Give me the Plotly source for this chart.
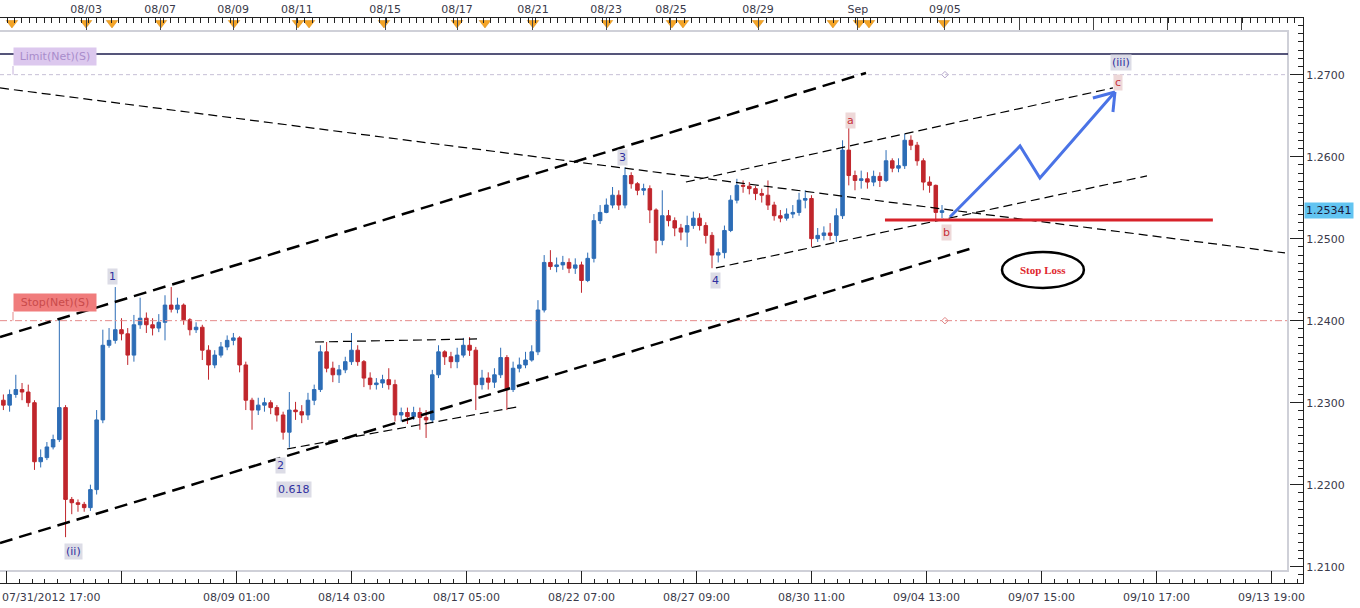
import plotly.graph_objects as go

# ---------------- data ----------------
# x unit: trading hours since 07/31/2012 17:00 (weekends removed); one bar = 4 hours
bar_hour = list(range(-2, 606, 4))

bar_open = [
    1.2303, 1.2297, 1.2310, 1.2316, 1.2313, 1.2300, 1.2228, 1.2233, 1.2246, 1.2255,
    1.2294, 1.2182, 1.2178, 1.2176, 1.2172, 1.2194, 1.2279, 1.2370, 1.2376, 1.2389,
    1.2384, 1.2358, 1.2395, 1.2403, 1.2395, 1.2391, 1.2398, 1.2419, 1.2414, 1.2419,
    1.2401, 1.2389, 1.2392, 1.2364, 1.2346, 1.2358, 1.2368, 1.2376, 1.2379, 1.2346,
    1.2303, 1.2291, 1.2297, 1.2300, 1.2294, 1.2285, 1.2264, 1.2291, 1.2289, 1.2285,
    1.2303, 1.2316, 1.2362, 1.2342, 1.2334, 1.2340, 1.2350, 1.2364, 1.2350, 1.2330,
    1.2322, 1.2324, 1.2328, 1.2322, 1.2285, 1.2288, 1.2283, 1.2288, 1.2282, 1.2279,
    1.2334, 1.2362, 1.2356, 1.2350, 1.2358, 1.2370, 1.2364, 1.2322, 1.2330, 1.2325,
    1.2334, 1.2355, 1.2316, 1.2342, 1.2346, 1.2352, 1.2362, 1.2413, 1.2471, 1.2466,
    1.2468, 1.2471, 1.2464, 1.2468, 1.2449, 1.2476, 1.2522, 1.2532, 1.2541, 1.2553,
    1.2541, 1.2577, 1.2567, 1.2559, 1.2561, 1.2535, 1.2498, 1.2528, 1.2522, 1.2513,
    1.2508, 1.2516, 1.2525, 1.2516, 1.2504, 1.2480, 1.2483, 1.2510, 1.2547, 1.2565,
    1.2564, 1.2561, 1.2555, 1.2553, 1.2541, 1.2528, 1.2525, 1.2530, 1.2532, 1.2547,
    1.2549, 1.2500, 1.2504, 1.2507, 1.2504, 1.2528, 1.2608, 1.2577, 1.2571, 1.2573,
    1.2569, 1.2576, 1.2571, 1.2595, 1.2586, 1.2589, 1.2620, 1.2614, 1.2595, 1.2569,
    1.2565, 1.2532,
]
bar_high = [
    1.2310, 1.2316, 1.2334, 1.2324, 1.2322, 1.2303, 1.2243, 1.2252, 1.2261, 1.2401,
    1.2297, 1.2185, 1.2182, 1.2179, 1.2200, 1.2291, 1.2389, 1.2391, 1.2441, 1.2403,
    1.2391, 1.2407, 1.2428, 1.2410, 1.2403, 1.2408, 1.2431, 1.2441, 1.2428, 1.2421,
    1.2403, 1.2398, 1.2395, 1.2370, 1.2364, 1.2374, 1.2382, 1.2385, 1.2381, 1.2350,
    1.2306, 1.2306, 1.2306, 1.2303, 1.2297, 1.2289, 1.2313, 1.2301, 1.2297, 1.2312,
    1.2322, 1.2370, 1.2374, 1.2350, 1.2346, 1.2356, 1.2385, 1.2370, 1.2352, 1.2337,
    1.2330, 1.2334, 1.2342, 1.2328, 1.2294, 1.2294, 1.2295, 1.2294, 1.2291, 1.2340,
    1.2370, 1.2364, 1.2362, 1.2367, 1.2379, 1.2380, 1.2368, 1.2340, 1.2337, 1.2342,
    1.2367, 1.2358, 1.2350, 1.2355, 1.2362, 1.2370, 1.2425, 1.2480, 1.2486, 1.2477,
    1.2479, 1.2476, 1.2476, 1.2472, 1.2483, 1.2530, 1.2541, 1.2549, 1.2563, 1.2559,
    1.2587, 1.2581, 1.2569, 1.2567, 1.2565, 1.2537, 1.2559, 1.2535, 1.2526, 1.2518,
    1.2528, 1.2533, 1.2531, 1.2520, 1.2508, 1.2488, 1.2516, 1.2553, 1.2573, 1.2571,
    1.2569, 1.2564, 1.2561, 1.2571, 1.2545, 1.2535, 1.2537, 1.2541, 1.2556, 1.2559,
    1.2553, 1.2513, 1.2515, 1.2519, 1.2537, 1.2620, 1.2638, 1.2583, 1.2583, 1.2581,
    1.2583, 1.2581, 1.2608, 1.2598, 1.2598, 1.2628, 1.2626, 1.2618, 1.2598, 1.2576,
    1.2566, 1.2541,
]
bar_low = [
    1.2291, 1.2289, 1.2306, 1.2303, 1.2295, 1.2218, 1.2221, 1.2230, 1.2243, 1.2252,
    1.2136, 1.2164, 1.2167, 1.2167, 1.2168, 1.2188, 1.2275, 1.2367, 1.2372, 1.2376,
    1.2346, 1.2350, 1.2390, 1.2385, 1.2382, 1.2386, 1.2376, 1.2410, 1.2409, 1.2395,
    1.2382, 1.2385, 1.2352, 1.2328, 1.2342, 1.2355, 1.2364, 1.2370, 1.2337, 1.2291,
    1.2267, 1.2285, 1.2289, 1.2286, 1.2277, 1.2255, 1.2245, 1.2279, 1.2275, 1.2279,
    1.2297, 1.2313, 1.2337, 1.2325, 1.2324, 1.2336, 1.2346, 1.2345, 1.2319, 1.2316,
    1.2316, 1.2318, 1.2316, 1.2277, 1.2277, 1.2274, 1.2279, 1.2267, 1.2257, 1.2275,
    1.2330, 1.2346, 1.2342, 1.2342, 1.2355, 1.2357, 1.2291, 1.2316, 1.2316, 1.2318,
    1.2330, 1.2291, 1.2313, 1.2337, 1.2342, 1.2350, 1.2358, 1.2410, 1.2462, 1.2459,
    1.2462, 1.2458, 1.2457, 1.2434, 1.2447, 1.2471, 1.2518, 1.2531, 1.2537, 1.2535,
    1.2537, 1.2561, 1.2553, 1.2553, 1.2519, 1.2482, 1.2492, 1.2515, 1.2503, 1.2498,
    1.2490, 1.2512, 1.2510, 1.2494, 1.2464, 1.2471, 1.2476, 1.2508, 1.2543, 1.2556,
    1.2554, 1.2547, 1.2544, 1.2535, 1.2522, 1.2520, 1.2522, 1.2525, 1.2528, 1.2537,
    1.2490, 1.2496, 1.2498, 1.2498, 1.2496, 1.2524, 1.2565, 1.2559, 1.2561, 1.2561,
    1.2564, 1.2563, 1.2569, 1.2581, 1.2581, 1.2585, 1.2608, 1.2589, 1.2559, 1.2556,
    1.2522, 1.2525,
]
bar_close = [
    1.2297, 1.2310, 1.2316, 1.2313, 1.2300, 1.2228, 1.2233, 1.2246, 1.2255, 1.2294,
    1.2182, 1.2178, 1.2176, 1.2172, 1.2194, 1.2279, 1.2370, 1.2376, 1.2389, 1.2384,
    1.2358, 1.2395, 1.2403, 1.2395, 1.2391, 1.2398, 1.2419, 1.2414, 1.2419, 1.2401,
    1.2389, 1.2392, 1.2364, 1.2346, 1.2358, 1.2368, 1.2376, 1.2379, 1.2346, 1.2303,
    1.2291, 1.2297, 1.2300, 1.2294, 1.2285, 1.2264, 1.2291, 1.2289, 1.2285, 1.2303,
    1.2316, 1.2362, 1.2342, 1.2334, 1.2340, 1.2350, 1.2364, 1.2350, 1.2330, 1.2322,
    1.2324, 1.2328, 1.2322, 1.2285, 1.2288, 1.2283, 1.2288, 1.2282, 1.2279, 1.2334,
    1.2362, 1.2356, 1.2350, 1.2358, 1.2370, 1.2364, 1.2322, 1.2330, 1.2325, 1.2334,
    1.2355, 1.2316, 1.2342, 1.2346, 1.2352, 1.2362, 1.2413, 1.2471, 1.2466, 1.2468,
    1.2471, 1.2464, 1.2468, 1.2449, 1.2476, 1.2522, 1.2532, 1.2541, 1.2553, 1.2541,
    1.2577, 1.2567, 1.2559, 1.2561, 1.2535, 1.2498, 1.2528, 1.2522, 1.2513, 1.2508,
    1.2516, 1.2525, 1.2516, 1.2504, 1.2480, 1.2483, 1.2510, 1.2547, 1.2565, 1.2564,
    1.2561, 1.2555, 1.2553, 1.2541, 1.2528, 1.2525, 1.2530, 1.2532, 1.2547, 1.2549,
    1.2500, 1.2504, 1.2507, 1.2504, 1.2528, 1.2608, 1.2577, 1.2571, 1.2573, 1.2569,
    1.2576, 1.2571, 1.2595, 1.2586, 1.2589, 1.2620, 1.2614, 1.2595, 1.2569, 1.2565,
    1.2532, 1.25341,
]
last_price = 1.25341

# axis ticks / labels
bottom_tick_hours = [0, 74, 148, 222, 296, 370, 444, 518, 592, 666, 740, 814]
bottom_tick_text = ["", "", "08/09 01:00", "08/14 03:00", "08/17 05:00", "08/22 07:00",
                    "08/27 09:00", "08/30 11:00", "09/04 13:00", "09/07 15:00",
                    "09/10 17:00", "09/13 19:00"]
first_bottom_label = "07/31/2012 17:00"
top_tick_hours = [51.2, 98.8, 145.8, 186.9, 243.6, 289.9, 338.8, 385.8, 427.6, 483.6,
                  547.9, 603.9, 651.7, 699.3, 746.9, 795.0]
top_tick_text = ["08/03", "08/07", "08/09", "08/11", "08/15", "08/17", "08/21", "08/23",
                 "08/25", "08/29", "Sep", "09/05", "", "", "", ""]
event_hours = [3.5, 51.2, 67.9, 99.4, 146.4, 187.6, 194.7, 242.9, 289.9, 307.9, 338.8,
               386.4, 428.2, 435.3, 483.6, 531.8, 548.6, 555.0, 603.2]
price_ticks = [1.21, 1.22, 1.23, 1.24, 1.25, 1.26, 1.27]

# order levels
limit_level = 1.2700
stop_level = 1.2400
upper_level = 1.27252
support_level = 1.25228
support_hours = [565.3, 776.3]
order_marker_hour = 603.9

# analyst trend lines: (hour0, price0, hour1, price1)
thick_lines = [(-4.18, 1.23801, 553.1, 1.27021),
               (-4.18, 1.21289, 621.9, 1.24887)]
thin_lines = [(-4.18, 1.26838, 822.7, 1.24826),
              (437.2, 1.25691, 712.0, 1.26838),
              (456.5, 1.24643, 733.9, 1.25765),
              (198.5, 1.23740, 302.8, 1.23777),
              (180.5, 1.22435, 328.5, 1.22948)]

# projected path (blue arrow)
arrow_hours = [607.1, 652.2, 665.0, 713.3]
arrow_prices = [1.25265, 1.26130, 1.25740, 1.26789]
arrow_wing_hours = [699.1, 712.0]
arrow_wing_prices = [1.26716, 1.26545]

# wave labels
wave_text = ["1", "(ii)", "2", "0.618", "3", "4", "(iii)"]
wave_hours = [68.5, 43.4, 176.6, 185.0, 396.7, 456.5, 717.1]
wave_prices = [1.24533, 1.21191, 1.22240, 1.21947, 1.25984, 1.24484, 1.27143]
abc_text = ["a", "b", "c"]
abc_hours = [542.8, 605.2, 715.0]
abc_prices = [1.26435, 1.25070, 1.26899]

# stop-loss ellipse
stoploss_hours = [640.6, 693.3]
stoploss_prices = [1.24399, 1.24838]

# ---------------- figure ----------------
W, H = 1360, 608
X_RANGE = [-4.18, 834.3]
Y_RANGE = [1.20801, 1.27691]
PLOT_RIGHT = 1288 / W
INK = "#3a3a4a"

fig = go.Figure()

fig.add_trace(go.Candlestick(
    x=bar_hour, open=bar_open, high=bar_high, low=bar_low, close=bar_close,
    increasing=dict(line=dict(color="#2d6db6", width=1), fillcolor="#2d6db6"),
    decreasing=dict(line=dict(color="#c0262c", width=1), fillcolor="#c0262c"),
    whiskerwidth=0, hoverinfo="skip", xaxis="x", yaxis="y",
))

# event triangles on the top strip
fig.add_trace(go.Scatter(
    x=event_hours, y=[1.2763] * len(event_hours), mode="markers",
    marker=dict(symbol="triangle-down", size=10, color="#f4a426",
                line=dict(color="#d98a10", width=0.5)),
    xaxis="x2", yaxis="y", cliponaxis=False, hoverinfo="skip",
))

# small order markers
fig.add_trace(go.Scatter(
    x=[order_marker_hour, order_marker_hour], y=[limit_level, stop_level], mode="markers",
    marker=dict(symbol="diamond-open", size=5, color=["#b6a6cc", "#e08585"]),
    hoverinfo="skip",
))

# blue projected path
path_x = arrow_hours + [None, arrow_hours[-1], arrow_wing_hours[0], None,
                        arrow_hours[-1], arrow_wing_hours[1]]
path_y = arrow_prices + [None, arrow_prices[-1], arrow_wing_prices[0], None,
                         arrow_prices[-1], arrow_wing_prices[1]]
fig.add_trace(go.Scatter(
    x=path_x, y=path_y, mode="lines",
    line=dict(color="#4a73e6", width=3), hoverinfo="skip",
))

shapes = []
# plot-area frame (light gray)
shapes.append(dict(type="rect", xref="paper", yref="paper", x0=-0.01, x1=PLOT_RIGHT,
                   y0=1 - 571 / H, y1=1 - 31 / H,
                   line=dict(color="#cfd0d8", width=2), layer="below"))
# level lines
shapes.append(dict(type="line", xref="paper", yref="y", x0=0, x1=PLOT_RIGHT,
                   y0=upper_level, y1=upper_level, line=dict(color="#1d1d4e", width=1.5)))
shapes.append(dict(type="line", xref="paper", yref="y", x0=0, x1=PLOT_RIGHT,
                   y0=limit_level, y1=limit_level,
                   line=dict(color="#c6bfd6", width=1, dash="4px,3px")))
shapes.append(dict(type="line", xref="paper", yref="y", x0=0, x1=PLOT_RIGHT,
                   y0=stop_level, y1=stop_level,
                   line=dict(color="#e58a8a", width=1, dash="7px,3px,2px,3px")))
# label stubs
shapes.append(dict(type="line", xref="paper", yref="y", x0=13 / W, x1=13 / W,
                   y0=limit_level, y1=1.27106, line=dict(color="#c6b2dc", width=1)))
shapes.append(dict(type="line", xref="paper", yref="y", x0=13 / W, x1=13 / W,
                   y0=stop_level, y1=1.24106, line=dict(color="#e58a8a", width=1)))
# trend lines
for h0, p0, h1, p1 in thick_lines:
    shapes.append(dict(type="line", xref="x", yref="y", x0=h0, y0=p0, x1=h1, y1=p1,
                       line=dict(color="#000000", width=2.5, dash="13px,7px")))
for h0, p0, h1, p1 in thin_lines:
    shapes.append(dict(type="line", xref="x", yref="y", x0=h0, y0=p0, x1=h1, y1=p1,
                       line=dict(color="#000000", width=1.2, dash="9px,5px")))
# support line
shapes.append(dict(type="line", xref="x", yref="y", x0=support_hours[0], x1=support_hours[1],
                   y0=support_level, y1=support_level, line=dict(color="#d7222a", width=3)))
# stop loss ellipse
shapes.append(dict(type="circle", xref="x", yref="y",
                   x0=stoploss_hours[0], x1=stoploss_hours[1],
                   y0=stoploss_prices[0], y1=stoploss_prices[1],
                   line=dict(color="#000000", width=2.5)))

annotations = []
annotations.append(dict(text=first_bottom_label, xref="paper", yref="paper", x=0.0,
                        y=1 - 597 / H, xanchor="left", yanchor="middle", showarrow=False,
                        font=dict(size=11, color=INK)))
annotations.append(dict(text="Limit(Net)(S)", xref="paper", yref="y", x=13 / W, y=1.27216,
                        xanchor="left", showarrow=False, bgcolor="#dcc8ee", borderpad=2,
                        width=78, font=dict(size=11, color="#a98ccb")))
annotations.append(dict(text="Stop(Net)(S)", xref="paper", yref="y", x=13 / W, y=1.24216,
                        xanchor="left", showarrow=False, bgcolor="#f07c7c", borderpad=2,
                        width=78, font=dict(size=11, color="#c94a4a")))
for t, hx, py in zip(wave_text, wave_hours, wave_prices):
    annotations.append(dict(text=t, xref="x", yref="y", x=hx, y=py, showarrow=False,
                            bgcolor="#dcdce6", borderpad=1,
                            font=dict(size=11, color="#3030a0")))
for t, hx, py in zip(abc_text, abc_hours, abc_prices):
    annotations.append(dict(text=t, xref="x", yref="y", x=hx, y=py, showarrow=False,
                            bgcolor="#eed8d8", borderpad=1,
                            font=dict(size=11, color="#c8323a")))
annotations.append(dict(text="<b>Stop Loss</b>", xref="x", yref="y",
                        x=sum(stoploss_hours) / 2, y=sum(stoploss_prices) / 2,
                        showarrow=False,
                        font=dict(size=11, color="#e0262c", family="Liberation Serif")))
annotations.append(dict(text=f"{last_price:.5f}", xref="paper", yref="y", x=1304 / W,
                        y=last_price, xanchor="left", showarrow=False, bgcolor="#62c4f1",
                        borderpad=1, font=dict(size=11, color="#1a1a3a")))

fig.update_layout(
    width=W, height=H, margin=dict(l=0, r=0, t=0, b=0),
    paper_bgcolor="white", plot_bgcolor="white", showlegend=False,
    font=dict(family="DejaVu Sans", size=11, color=INK),
    shapes=shapes, annotations=annotations,
    xaxis=dict(domain=[0, 1303 / W], range=X_RANGE, anchor="y", side="bottom",
               showline=True, linecolor="#222", linewidth=1,
               ticks="inside", ticklen=12, tickcolor="#222", tickwidth=1,
               tickmode="array", tickvals=bottom_tick_hours, ticktext=bottom_tick_text,
               ticklabelstandoff=4,
               minor=dict(ticks="inside", ticklen=4, tickcolor="#222",
                          tickmode="linear", tick0=0, dtick=74 / 9, showgrid=False),
               showgrid=False, zeroline=False, automargin=False,
               rangeslider=dict(visible=False), fixedrange=True),
    xaxis2=dict(overlaying="x", anchor="y", side="top", range=X_RANGE,
                showline=True, linecolor="#222", linewidth=1,
                ticks="inside", ticklen=12, tickcolor="#444", tickwidth=1,
                tickmode="array", tickvals=top_tick_hours, ticktext=top_tick_text,
                minor=dict(ticks="inside", ticklen=5, tickcolor="#222",
                           tickmode="linear", tick0=603.9, dtick=4.79, showgrid=False),
                showgrid=False, zeroline=False, automargin=False, fixedrange=True),
    yaxis=dict(domain=[1 - 583 / H, 1 - 18 / H], range=Y_RANGE, anchor="x", side="right",
               showline=True, linecolor="#222", linewidth=1,
               ticks="inside", ticklen=13, tickcolor="#222",
               tickmode="array", tickvals=price_ticks, tickformat=".4f",
               minor=dict(ticks="inside", ticklen=5, tickcolor="#222",
                          tickmode="linear", tick0=1.21, dtick=0.001, showgrid=False),
               showgrid=False, zeroline=False, automargin=False, fixedrange=True),
    boxgap=0.4, boxgroupgap=0.05,
)

fig.write_html(
    "out.html",
    config={"displayModeBar": False},
    post_script="document.body.style.margin='0px';document.body.style.overflow='hidden';",
)
